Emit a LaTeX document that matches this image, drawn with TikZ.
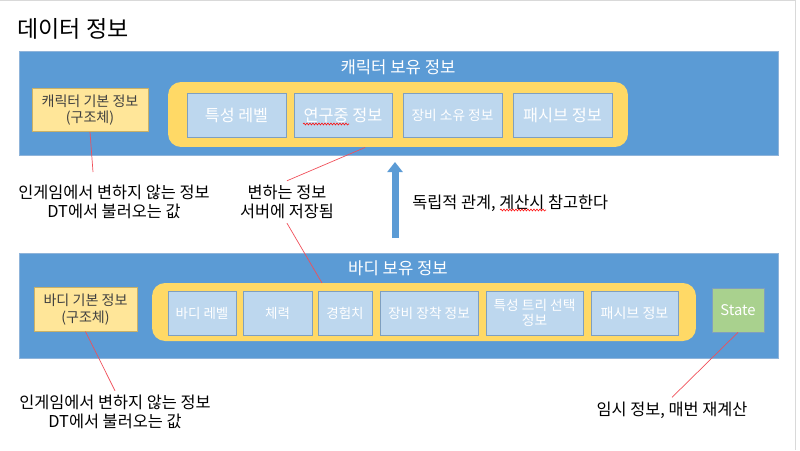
\documentclass[tikz,border=0pt]{standalone}
\usepackage{fontspec}
\setmainfont{Noto Sans CJK KR}
\usetikzlibrary{arrows.meta,decorations.pathmorphing}

\definecolor{panelblue}{HTML}{5B9BD5}
\definecolor{paneledge}{HTML}{8FB4DA}
\definecolor{groupgold}{HTML}{FFD966}
\definecolor{basefill}{HTML}{FFE699}
\definecolor{baseedge}{HTML}{C9B066}
\definecolor{itemfill}{HTML}{BDD7EE}
\definecolor{itemedge}{HTML}{7F9FBF}
\definecolor{statefill}{HTML}{A9D18E}
\definecolor{notered}{HTML}{F0505A}
\definecolor{framegray}{HTML}{D9D9D9}
\definecolor{basetext}{HTML}{404040}

\tikzset{
	panel/.style={fill=panelblue, draw=paneledge, line width=0.4pt},
	group/.style={fill=groupgold, rounded corners=0.26cm, inner sep=0},
	item/.style={draw=itemedge, fill=itemfill, text=white, minimum height=0.88cm, inner sep=1pt, align=center},
	basebox/.style={draw=baseedge, fill=basefill, text=basetext, minimum height=0.87cm, inner sep=1pt, align=center, font=\fontsize{8}{9.6}\selectfont},
	statebox/.style={draw=itemedge, fill=statefill, text=white, minimum width=1.04cm, minimum height=0.88cm, inner sep=1pt, font=\fontsize{8.4}{9}\selectfont},
	heading/.style={text=white, inner sep=0, font=\fontsize{9.5}{10}\selectfont},
	note/.style={align=center, inner sep=0.08cm, font=\fontsize{9.3}{10.8}\selectfont},
	noteline/.style={draw=notered, line width=0.4pt},
	linkarrow/.style={draw=panelblue, line width=0.14cm, -{Triangle[length=0.2cm, width=0.3cm]}},
	squiggle/.style={draw=red, line width=0.3pt, decorate, decoration={snake, segment length=0.06cm, amplitude=0.02cm}}
}

\begin{document}
\begin{tikzpicture}[x=0.02cm, y=-0.02cm]
	\useasboundingbox (0,0) rectangle (800,450);
	\draw[framegray] (0,0.5) -- (795,0.5) -- (795,450);

	\node[anchor=west, inner sep=0, font=\fontsize{13.1}{15}\selectfont] (title) at (17,29) {데이터 정보};

	\filldraw[panel] (19,51) rectangle (778,155.5);
	\node[heading] (ctitle) at (398,67) {캐릭터 보유 정보};
	\node[basebox, minimum width=2.32cm] (cbase) at (90,110) {캐릭터 기본 정보\\(구조체)};
	\node[group, minimum width=9.2cm, minimum height=1.3cm] (cgroup) at (398,114.5) {};
	\node[item, minimum width=1.98cm, font=\fontsize{9.2}{10}\selectfont] (clevel) at (236.5,115) {특성 레벨};
	\node[item, minimum width=1.96cm, font=\fontsize{9.3}{10}\selectfont] (cresearch) at (343,115) {연구중 정보};
	\node[item, minimum width=1.98cm, font=\fontsize{7.8}{9}\selectfont] (cequip) at (452.5,115) {장비 소유 정보};
	\node[item, minimum width=1.98cm, font=\fontsize{9.3}{10}\selectfont] (cpassive) at (562.5,115) {패시브 정보};
	\draw[squiggle] (303,124) -- (349,124);

	\filldraw[panel] (19,253) rectangle (778,358);
	\node[heading] (btitle) at (398,268) {바디 보유 정보};
	\node[basebox, minimum width=2.06cm] (bbase) at (85.5,309.5) {바디 기본 정보\\(구조체)};
	\node[group, minimum width=10.88cm, minimum height=1.16cm] (bgroup) at (424,312) {};
	\node[item, minimum width=1.36cm, font=\fontsize{7.7}{9}\selectfont] (blevel) at (202,313) {바디 레벨};
	\node[item, minimum width=1.38cm, font=\fontsize{7.7}{9}\selectfont] (bhp) at (277.5,313) {체력};
	\node[item, minimum width=1.08cm, font=\fontsize{7.7}{9}\selectfont] (bexp) at (345,313) {경험치};
	\node[item, minimum width=1.96cm, font=\fontsize{7.8}{9}\selectfont] (bequip) at (429,313) {장비 장착 정보};
	\node[item, minimum width=1.94cm, font=\fontsize{7.8}{8.5}\selectfont] (btree) at (534.5,313) {특성 트리 선택\\정보};
	\node[item, minimum width=1.74cm, font=\fontsize{8}{9}\selectfont] (bpassive) at (634.5,313) {패시브 정보};
	\node[statebox] (state) at (738,310) {State};

	\coordinate (arrowfoot) at (395,238);
	\coordinate (arrowtip) at (395,162);
	\draw[linkarrow] (arrowfoot) -- (arrowtip);
	\node[anchor=west, inner sep=0, font=\fontsize{9.3}{10}\selectfont] (reltext) at (412,203) {독립적 관계, 계산시 참고한다};
	\draw[squiggle] (500,210) -- (546,210);

	\node[note] (cnote) at (114,202) {인게임에서 변하지 않는 정보\\DT에서 불러오는 값};
	\node[note] (changenote) at (287,202) {변하는 정보\\서버에 저장됨};
	\node[note] (bnote) at (115,412) {인게임에서 변하지 않는 정보\\DT에서 불러오는 값};
	\node[note] (statenote) at (672,410) {임시 정보, 매번 재계산};

	\coordinate (cbasetail) at (93,172);
	\coordinate (cgroupfoot) at (365,147.5);
	\coordinate (bgrouphead) at (322,283);
	\draw[noteline] (cbase.south) -- (cbasetail);
	\draw[noteline] (cgroupfoot) -- (changenote.north);
	\draw[noteline] (changenote.south) -- (bgrouphead);
	\draw[noteline] (bbase.south) -- (bnote.north);
	\draw[noteline] (state.south) -- (statenote.north);
\end{tikzpicture}
\end{document}
